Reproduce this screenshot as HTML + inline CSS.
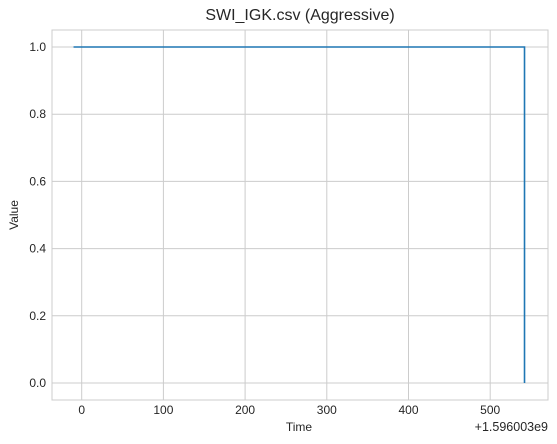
<!DOCTYPE html>
<html><head><meta charset="utf-8"><style>
html,body{margin:0;padding:0;background:#fff;}
svg{display:block;font-family:"Liberation Sans",Arial,sans-serif;}
</style></head><body>
<svg id="chart" width="557" height="444">
<text x="300" y="20" text-anchor="middle" font-size="16" fill="#262626">SWI_IGK.csv (Aggressive)</text>
<g id="grid"></g>
<g id="ticks"></g>
<rect x="52" y="30" width="496" height="370" fill="none" stroke="#cccccc" stroke-width="1"/>
<path id="series" fill="none" stroke="#1f77b4" stroke-width="1.6"/>
<text x="299" y="431" text-anchor="middle" font-size="12" fill="#262626">Time</text>
<text x="18" y="215" text-anchor="middle" font-size="12" fill="#262626" transform="rotate(-90 18 215)">Value</text>
<text x="548" y="431" text-anchor="end" font-size="12.5" fill="#262626">+1.596003e9</text>
</svg>
<script>
const xTicks = [0,100,200,300,400,500];
const yTicks = [0.0,0.2,0.4,0.6,0.8,1.0];
const times = [-10, 542, 542];
const values = [1, 1, 0];
function xs(v){return 81.7 + v*0.817;}
function ys(v){return 383 - v*336;}
const ns='http://www.w3.org/2000/svg';
const grid=document.getElementById('grid'), ticks=document.getElementById('ticks');
xTicks.forEach(t=>{
  const l=document.createElementNS(ns,'line');
  l.setAttribute('x1',xs(t));l.setAttribute('x2',xs(t));l.setAttribute('y1',30);l.setAttribute('y2',400);
  l.setAttribute('stroke','#cccccc');
  
  
  grid.appendChild(l);
  const tx=document.createElementNS(ns,'text');
  tx.setAttribute('x',xs(t));tx.setAttribute('y',414);tx.setAttribute('text-anchor','middle');
  tx.setAttribute('font-size','12');tx.setAttribute('fill','#262626');tx.textContent=t;
  
  
  ticks.appendChild(tx);
});
yTicks.forEach(t=>{
  const l=document.createElementNS(ns,'line');
  l.setAttribute('y1',ys(t));l.setAttribute('y2',ys(t));l.setAttribute('x1',52);l.setAttribute('x2',548);
  l.setAttribute('stroke','#cccccc');
  
  
  grid.appendChild(l);
  const tx=document.createElementNS(ns,'text');
  tx.setAttribute('x',46);tx.setAttribute('y',ys(t)+4);tx.setAttribute('text-anchor','end');
  tx.setAttribute('font-size','12');tx.setAttribute('fill','#262626');tx.textContent=t.toFixed(1);
  
  
  ticks.appendChild(tx);
});
document.getElementById('series').setAttribute('d',times.map((t,i)=>(i?'L':'M')+xs(t)+','+ys(values[i])).join(' '));
</script>
</body></html>
